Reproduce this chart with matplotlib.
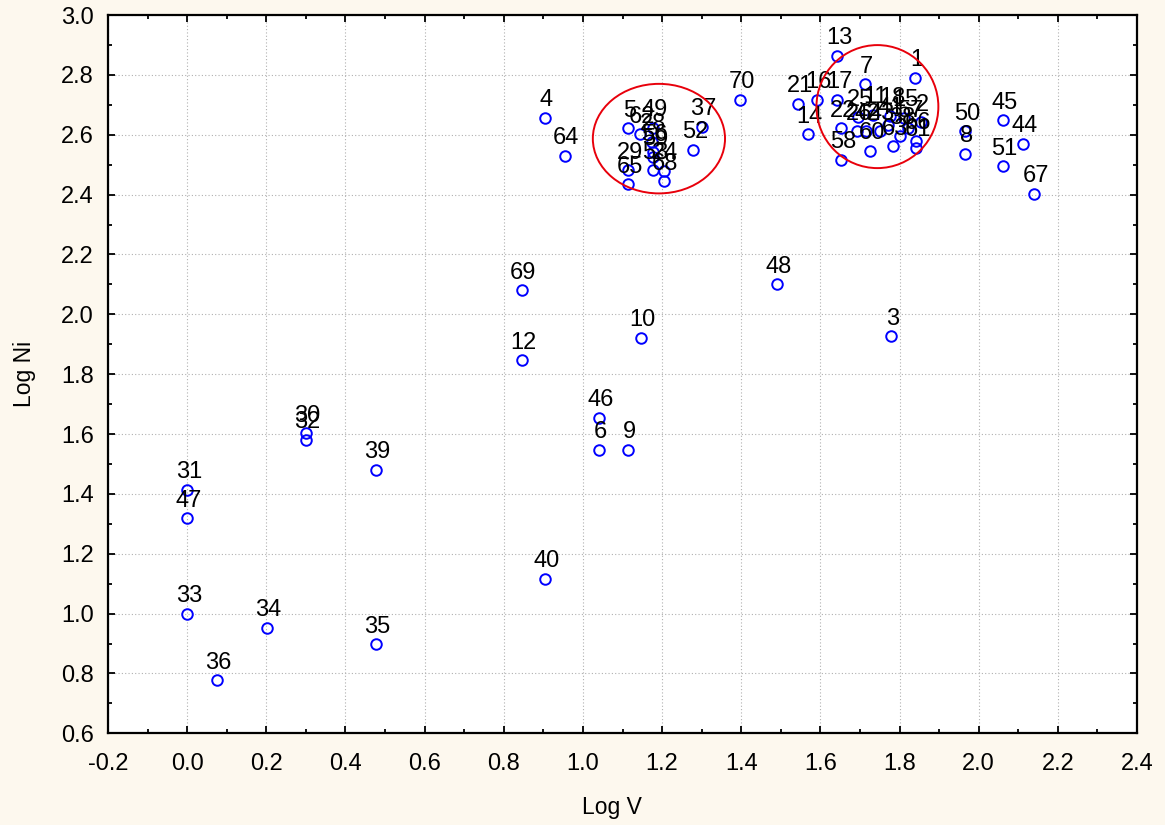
import matplotlib
matplotlib.use("Agg")
import matplotlib.pyplot as plt
from matplotlib.patches import Ellipse
from matplotlib.ticker import MultipleLocator

plt.rcParams["font.family"] = ["Liberation Sans", "DejaVu Sans"]

# sample number, log V, log Ni
LABELS = [
    "31", "47", "33", "36", "34", "35", "30", "32", "39", "69",
    "12", "40", "4", "64", "46", "6", "9", "10", "48", "3",
    "70", "37", "52", "21", "16", "17", "13", "7", "1", "14",
    "22", "58", "50", "8", "45", "44", "51", "67",
    "5", "62", "49", "28", "59", "29", "65", "24", "68", "53", "56",
    "25", "11", "18", "15", "2", "26", "42", "43", "41", "38",
    "60", "63", "57", "66", "61",
]
LOG_V = [
    0.000, 0.000, 0.000, 0.075, 0.201, 0.477, 0.300, 0.300, 0.477, 0.845,
    0.845, 0.903, 0.903, 0.954, 1.041, 1.041, 1.114, 1.146, 1.491, 1.778,
    1.398, 1.301, 1.279, 1.544, 1.591, 1.643, 1.643, 1.712, 1.839, 1.568,
    1.653, 1.653, 1.966, 1.966, 2.061, 2.113, 2.061, 2.140,
    1.114, 1.145, 1.178, 1.174, 1.178, 1.114, 1.114, 1.204, 1.204, 1.178, 1.177,
    1.696, 1.734, 1.777, 1.810, 1.853, 1.693, 1.716, 1.751, 1.772, 1.802,
    1.726, 1.784, 1.822, 1.842, 1.842,
]
LOG_NI = [
    1.413, 1.319, 1.000, 0.778, 0.952, 0.898, 1.603, 1.580, 1.480, 2.081,
    1.847, 1.116, 2.656, 2.529, 1.654, 1.547, 1.547, 1.921, 2.101, 1.927,
    2.716, 2.626, 2.549, 2.703, 2.716, 2.716, 2.863, 2.769, 2.790, 2.602,
    2.622, 2.516, 2.612, 2.536, 2.649, 2.569, 2.495, 2.402,
    2.621, 2.601, 2.623, 2.577, 2.527, 2.482, 2.434, 2.479, 2.445, 2.482, 2.542,
    2.659, 2.666, 2.663, 2.656, 2.642, 2.612, 2.612, 2.612, 2.632, 2.596,
    2.546, 2.562, 2.622, 2.579, 2.556,
]

# groups ringed in red: (centre x, centre y, width, height)
GROUPS = [
    (1.192, 2.587, 0.334, 0.366),
    (1.744, 2.694, 0.308, 0.411),
]

fig = plt.figure(figsize=(11.65, 8.25), dpi=100, facecolor="#fdf8ee")
ax = fig.add_axes([0.0927, 0.1111, 0.8833, 0.8707])
ax.set_facecolor("white")

ax.plot(LOG_V, LOG_NI, ls="none", marker="o", ms=7.6, mfc="none",
        mec="#0000ff", mew=1.4, zorder=3)
for lab, x, y in zip(LABELS, LOG_V, LOG_NI):
    ax.annotate(lab, (x, y), xytext=(1.2, 8.3), textcoords="offset points",
                ha="center", va="baseline", fontsize=17, color="black",
                zorder=4)

for cx, cy, w, h in GROUPS:
    ax.add_patch(Ellipse((cx, cy), w, h, fill=False, ec="#e8000b", lw=1.4,
                         zorder=5))

ax.set_xlim(-0.2, 2.4)
ax.set_ylim(0.6, 3.0)
ax.xaxis.set_major_locator(MultipleLocator(0.2))
ax.xaxis.set_minor_locator(MultipleLocator(0.1))
ax.yaxis.set_major_locator(MultipleLocator(0.2))
ax.yaxis.set_minor_locator(MultipleLocator(0.1))
ax.xaxis.set_major_formatter(lambda v, p: f"{v:.1f}".replace("-0.0", "0.0"))
ax.yaxis.set_major_formatter(lambda v, p: f"{v:.1f}")

ax.grid(True, which="major", ls=(0, (1, 2)), color="#b0b0b0", lw=0.8)
ax.tick_params(which="both", direction="in", top=True, right=True,
               labelsize=17, width=1.3)
ax.tick_params(which="major", length=5)
ax.tick_params(which="minor", length=3)
ax.tick_params(axis="x", which="major", pad=14)
ax.tick_params(axis="y", which="major", pad=10)
for s in ax.spines.values():
    s.set_linewidth(1.6)

ax.set_xlabel("Log V", fontsize=16.5)
ax.set_ylabel("Log Ni", fontsize=16.5)
ax.xaxis.set_label_coords(0.49, -0.087)
ax.yaxis.set_label_coords(-0.070, 0.5)

fig.savefig("out.png", dpi=100, facecolor=fig.get_facecolor())
